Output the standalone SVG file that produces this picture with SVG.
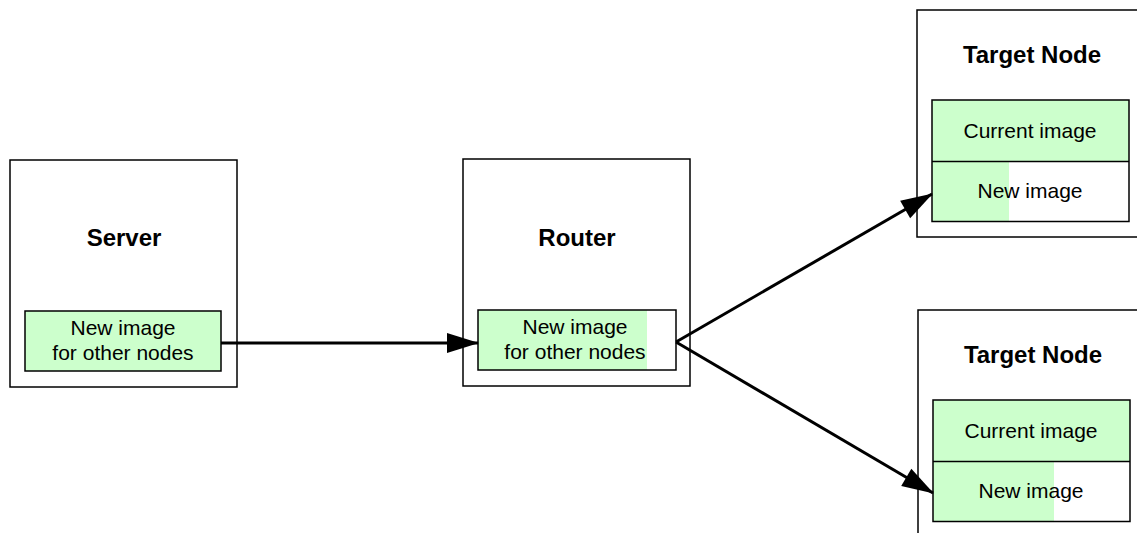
<svg xmlns="http://www.w3.org/2000/svg" width="1137" height="533" viewBox="0 0 1137 533">
<style>
.box{fill:#fff;stroke:#000;stroke-width:1.5}
.frame{fill:none;stroke:#000;stroke-width:1.5}
.green{fill:#ccffcc;stroke:none}
.title{font-family:"Liberation Sans",Arial,sans-serif;font-weight:bold;font-size:24px;text-anchor:middle;fill:#000}
.lbl{font-family:"Liberation Sans",Arial,sans-serif;font-size:21px;text-anchor:middle;fill:#000}
.conn{stroke:#000;stroke-width:3;fill:none;marker-end:url(#arrow)}
</style>
<defs>
<marker id="arrow" markerUnits="userSpaceOnUse" markerWidth="32" markerHeight="20" refX="31" refY="10" orient="auto" overflow="visible">
<path d="M0,0 L32,10 L0,20 Z" fill="#000"/>
</marker>
</defs>
<rect width="1137" height="533" fill="#fff"/>
<g id="server">
<rect class="box" x="10" y="160" width="227" height="227"/>
<text class="title" x="124" y="246">Server</text>
<rect class="green" x="25" y="311" width="196" height="60"/>
<rect class="frame" x="25" y="311" width="196" height="60"/>
<text class="lbl" x="123" y="335">New image</text>
<text class="lbl" x="123" y="360">for other nodes</text>
</g>
<g id="router">
<rect class="box" x="463" y="159" width="227" height="227"/>
<text class="title" x="577" y="246">Router</text>
<rect class="green" x="478" y="310" width="169" height="60"/>
<rect class="frame" x="478" y="310" width="198" height="60"/>
<text class="lbl" x="575" y="334">New image</text>
<text class="lbl" x="575" y="359">for other nodes</text>
</g>
<g id="target1">
<rect class="box" x="917" y="10" width="227" height="227"/>
<text class="title" x="1032" y="63">Target Node</text>
<rect class="green" x="932" y="100" width="197" height="61.5"/>
<rect class="green" x="932" y="161.5" width="77" height="60"/>
<rect class="frame" x="932" y="100" width="197" height="121.5"/>
<line x1="932" y1="161.5" x2="1129" y2="161.5" stroke="#000" stroke-width="1.5"/>
<text class="lbl" x="1030" y="138">Current image</text>
<text class="lbl" x="1030" y="198">New image</text>
</g>
<g id="target2">
<rect class="box" x="918" y="310" width="227" height="240"/>
<text class="title" x="1033" y="363">Target Node</text>
<rect class="green" x="933" y="400" width="197" height="61.5"/>
<rect class="green" x="933" y="461.5" width="121" height="60"/>
<rect class="frame" x="933" y="400" width="197" height="121.5"/>
<line x1="933" y1="461.5" x2="1130" y2="461.5" stroke="#000" stroke-width="1.5"/>
<text class="lbl" x="1031" y="438">Current image</text>
<text class="lbl" x="1031" y="498">New image</text>
</g>
<g id="connectors">
<line class="conn" x1="221" y1="343" x2="478" y2="343"/>
<line class="conn" x1="676" y1="342" x2="932" y2="194"/>
<line class="conn" x1="676" y1="342" x2="933" y2="493"/>
</g>
</svg>
